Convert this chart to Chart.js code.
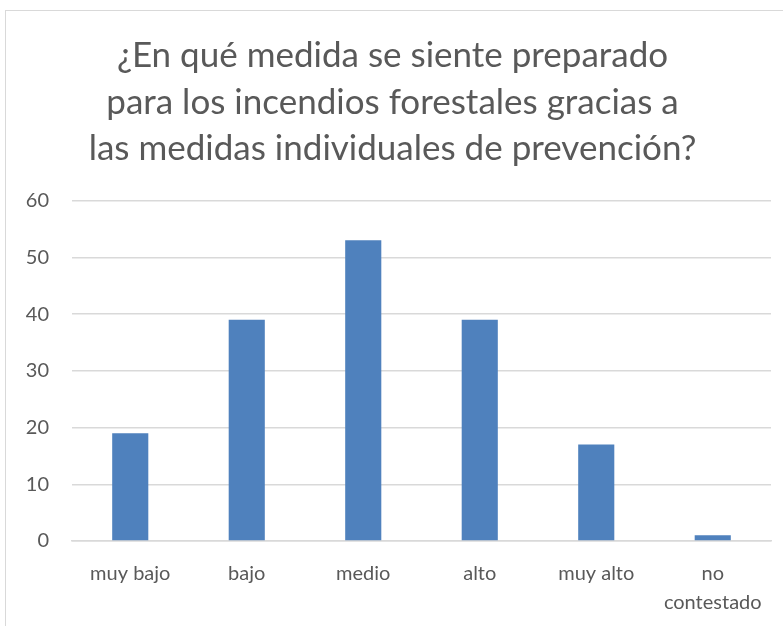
<!DOCTYPE html>
<html lang="es">
  <head>
    <meta charset="UTF-8" />
    <title>Preparación ante incendios forestales</title>
    <script src="https://cdn.jsdelivr.net/npm/chart.js"></script>
    <style>
      html, body { margin: 0; padding: 0; background: #fff; overflow: hidden; }
      #frame { position: absolute; left: 5px; top: 10px; width: 800px; height: 640px; border: 1px solid #d9d9d9; box-sizing: border-box; }
      #wrap { position: absolute; left: 0; top: 0; width: 783px; height: 626px; }
    </style>
  </head>
  <body>
    <div id="frame"></div>
    <div id="wrap"><canvas id="chart" width="783" height="626"></canvas></div>

    <script>
      // chart data
      const categories = ['muy bajo', 'bajo', 'medio', 'alto', 'muy alto', ['no', 'contestado']];
      const respuestas = [19, 39, 53, 39, 17, 1];
      const titleLines = [
        '¿En qué medida se siente preparado',
        'para los incendios forestales gracias a',
        'las medidas individuales de prevención?'
      ];
      const yTicks = { min: 0, max: 60, step: 10 };

      const textColor = '#595959';
      const gridColor = '#d9d9d9';
      const fontFamily = 'Lato, "Open Sans", sans-serif';

      new Chart(document.getElementById('chart'), {
        type: 'bar',
        data: {
          labels: categories,
          datasets: [{
            data: respuestas,
            backgroundColor: '#4f81bd',
            borderWidth: 0,
            categoryPercentage: 1,
            barPercentage: 0.31
          }]
        },
        options: {
          responsive: false,
          animation: false,
          layout: { padding: { top: 33, right: 12, left: 14, bottom: 0 } },
          plugins: {
            legend: { display: false },
            tooltip: { enabled: false },
            title: {
              display: true,
              text: titleLines,
              color: textColor,
              font: { family: fontFamily, size: 35, weight: 'normal', lineHeight: 1.32 },
              padding: { top: 0, bottom: 29 }
            }
          },
          scales: {
            x: {
              grid: { display: false, drawTicks: false },
              border: { color: gridColor, width: 1.5 },
              ticks: {
                color: textColor,
                padding: 18,
                maxRotation: 0,
                autoSkip: false,
                font: { family: fontFamily, size: 20, lineHeight: 1.45 }
              },
              afterFit: (scale) => { scale.height = 85; }
            },
            y: {
              min: yTicks.min,
              max: yTicks.max,
              grid: { color: gridColor, lineWidth: 1.5, drawTicks: false },
              border: { display: false },
              ticks: {
                stepSize: yTicks.step,
                color: textColor,
                padding: 23,
                font: { family: fontFamily, size: 20 }
              },
              afterFit: (scale) => { scale.width = 58; }
            }
          }
        }
      });
    </script>
  </body>
</html>
